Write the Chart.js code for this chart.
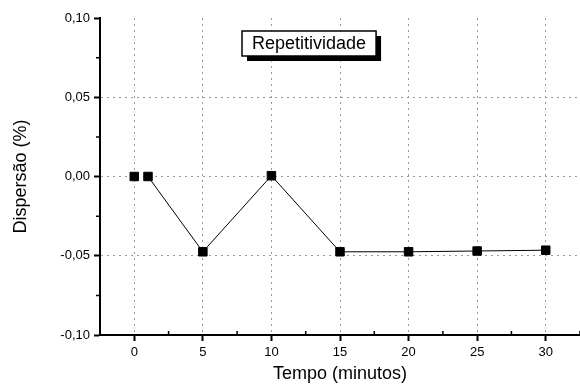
<!DOCTYPE html>
<html>
<head>
<meta charset="utf-8">
<script src="https://cdn.jsdelivr.net/npm/chart.js@4/dist/chart.umd.min.js"></script>
<style>
  html, body { margin: 0; padding: 0; background: #fff; }
  #wrap { width: 580px; height: 387px; }
</style>
</head>
<body>
<div id="wrap"><canvas id="myChart" width="580" height="387"></canvas></div>
<script>
// values
const startTime = [0];
const startDisp = [0.0];
const tempo = [1, 5, 10, 15, 20, 25, 30];
const dispersao = [0.0, -0.0475, 0.0005, -0.0475, -0.0475, -0.047, -0.0465];
const xTicks = [0, 5, 10, 15, 20, 25, 30];
const yTicks = [-0.10, -0.05, 0.00, 0.05, 0.10];
const xMinor = [-2.5, 2.5, 7.5, 12.5, 17.5, 22.5, 27.5, 32.5];
const yMinor = [-0.075, -0.025, 0.025, 0.075];
const chartTitle = "Repetitividade";

const fontName = "'Liberation Sans', Arial, sans-serif";

const extras = {
    id: "extras",
    afterDraw(chart) {
        const c = chart.ctx;
        const xs = chart.scales.x;
        const ys = chart.scales.y;
        const area = chart.chartArea;
        c.save();
        c.strokeStyle = "#000";
        c.lineWidth = 1.5;
        // minor ticks
        c.beginPath();
        xMinor.forEach((v) => {
            const px = xs.getPixelForValue(v);
            c.moveTo(px, area.bottom);
            c.lineTo(px, area.bottom - 4);
        });
        yMinor.forEach((v) => {
            const py = ys.getPixelForValue(v);
            c.moveTo(area.left, py);
            c.lineTo(area.left - 4, py);
        });
        c.stroke();

        // title box with shadow
        c.font = "18px " + fontName;
        const w = c.measureText(chartTitle).width + 20;
        const h = 25;
        const cx = xs.getPixelForValue(12.75);
        const cy = ys.getPixelForValue(0.084);
        const x0 = Math.round(cx - w / 2);
        const y0 = Math.round(cy - h / 2);
        c.fillStyle = "#000";
        c.fillRect(x0 + 5, y0 + 5, w, h);
        c.fillStyle = "#fff";
        c.fillRect(x0, y0, w, h);
        c.lineWidth = 1.5;
        c.strokeRect(x0, y0, w, h);
        c.fillStyle = "#000";
        c.textAlign = "center";
        c.textBaseline = "middle";
        c.fillText(chartTitle, x0 + w / 2, y0 + h / 2 + 1);
        c.restore();
    },
};

const fmt = (v) => {
    const s = Math.abs(v).toFixed(2).replace(".", ",");
    return v < -1e-9 ? "-" + s : s;
};

const ctx = document.getElementById("myChart");
new Chart(ctx, {
    type: "line",
    data: {
        datasets: [
            {
                data: startTime.map((t, i) => ({ x: t, y: startDisp[i] })),
                borderColor: "#000",
                backgroundColor: "#000",
                showLine: false,
                pointStyle: "rect",
                pointRadius: 6,
                pointHoverRadius: 6,
            },
            {
                data: tempo.map((t, i) => ({ x: t, y: dispersao[i] })),
                borderColor: "#000",
                backgroundColor: "#000",
                borderWidth: 1,
                pointStyle: "rect",
                pointRadius: 6,
                pointHoverRadius: 6,
                tension: 0,
            },
        ],
    },
    options: {
        responsive: false,
        animation: false,
        events: [],
        layout: { autoPadding: false, padding: { top: 18, right: 0, left: 0, bottom: 0 } },
        plugins: { legend: { display: false }, tooltip: { enabled: false } },
        scales: {
            x: {
                type: "linear",
                min: -2.5,
                max: 32.5,
                afterBuildTicks: (s) => { s.ticks = xTicks.map((v) => ({ value: v })); },
                afterFit: (s) => {
                    s.height = 52;
                    s.paddingLeft = 0;
                    s.paddingRight = 0;
                },
                ticks: {
                    color: "#000",
                    font: { family: fontName, size: 13 },
                    padding: 4,
                    maxRotation: 0,
                    callback: (v) => String(v),
                },
                grid: {
                    color: "#9a9a9a",
                    lineWidth: 1,
                    tickColor: "#000",
                    tickLength: 6,
                    tickWidth: 2,
                },
                border: { color: "#000", width: 2, dash: [2, 4] },
                title: {
                    display: true,
                    text: "Tempo (minutos)",
                    color: "#000",
                    font: { family: fontName, size: 18 },
                    padding: { top: 0, bottom: 2 },
                },
            },
            y: {
                min: -0.1,
                max: 0.1,
                afterBuildTicks: (s) => { s.ticks = yTicks.map((v) => ({ value: v })); },
                afterFit: (s) => { s.width = 100; },
                ticks: {
                    color: "#000",
                    font: { family: fontName, size: 13 },
                    padding: 4,
                    callback: (v) => fmt(v),
                },
                grid: {
                    color: (c) => (c.tick && Math.abs(Math.abs(c.tick.value) - 0.1) < 1e-6 ? "rgba(0,0,0,0)" : "#9a9a9a"),
                    lineWidth: 1,
                    tickColor: "#000",
                    tickLength: 6,
                    tickWidth: 2,
                },
                border: { color: "#000", width: 2, dash: [2, 4] },
                title: {
                    display: true,
                    text: "Dispersão (%)",
                    color: "#000",
                    font: { family: fontName, size: 18 },
                    padding: { top: 10, bottom: 0 },
                },
            },
        },
    },
    plugins: [extras],
});
</script>
</body>
</html>
